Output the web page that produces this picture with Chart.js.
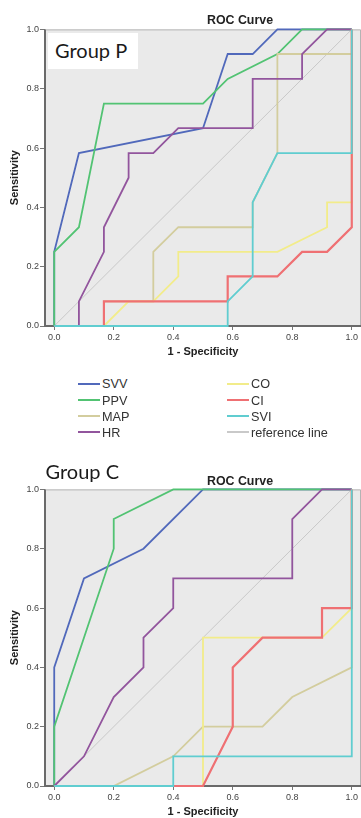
<!DOCTYPE html>
<html><head><meta charset="utf-8">
<script src="https://cdn.jsdelivr.net/npm/chart.js@4.4.1/dist/chart.umd.min.js"></script>
<style>
html,body{margin:0;padding:0;background:#fff;width:361px;height:818px;overflow:hidden;position:relative;font-family:'Liberation Sans',Arial,sans-serif;}
canvas{position:absolute;left:0;}
#c1{top:0;}
#c2{top:460px;}
.grp{position:absolute;font-family:Lato,'Open Sans',sans-serif;font-size:20px;line-height:24px;color:#1a1a1a;white-space:nowrap;}
#gpbox{position:absolute;left:48px;top:33px;width:90px;height:36px;background:#fff;}
.ttl{position:absolute;left:240px;transform:translateX(-50%);font-size:12.4px;font-weight:bold;line-height:14px;color:#222;white-space:nowrap;}
.leg{position:absolute;font-size:12.7px;line-height:14px;height:14px;color:#333;white-space:nowrap;}
.leg span{display:inline-block;width:22px;height:2px;vertical-align:middle;margin-right:2px;position:relative;top:-1px;}
</style>
</head><body>
<canvas id="c1" width="361" height="366"></canvas>
<canvas id="c2" width="361" height="366"></canvas>
<div id="gpbox"></div>
<div class="grp" id="gp" style="left:55px;top:38px;">Group P</div>
<div class="grp" id="gc" style="left:45.5px;top:459px;">Group C</div>
<div class="ttl" style="top:13px;">ROC Curve</div>
<div class="ttl" style="top:474px;">ROC Curve</div>
<div id="legend"></div>
<script>
// ---- data ----
const seriesNames = ['SVV','PPV','MAP','HR','CO','CI','SVI','reference line'];
const tickValues = [0.0,0.2,0.4,0.6,0.8,1.0];
const tickLabels = ['0.0','0.2','0.4','0.6','0.8','1.0'];

// Group P  [1 - specificity, sensitivity]
const P_SVV = [[0,0],[0,0.25],[0.083,0.583],[0.5,0.667],[0.583,0.917],[0.667,0.917],[0.75,1],[1,1]];
const P_PPV = [[0,0],[0,0.25],[0.083,0.333],[0.167,0.75],[0.5,0.75],[0.583,0.833],[0.75,0.917],[0.833,1],[1,1]];
const P_MAP = [[0,0],[0.167,0],[0.167,0.083],[0.333,0.083],[0.333,0.25],[0.417,0.333],[0.667,0.333],[0.667,0.417],[0.75,0.583],[0.75,0.917],[1,0.917],[1,1]];
const P_HR  = [[0,0],[0.083,0],[0.083,0.083],[0.167,0.25],[0.167,0.333],[0.25,0.5],[0.25,0.583],[0.333,0.583],[0.417,0.667],[0.667,0.667],[0.667,0.833],[0.833,0.833],[0.833,0.917],[0.917,1],[1,1]];
const P_CO  = [[0,0],[0.167,0],[0.25,0.083],[0.333,0.083],[0.417,0.167],[0.417,0.25],[0.75,0.25],[0.917,0.333],[0.917,0.417],[1,0.417],[1,1]];
const P_CI  = [[0,0],[0.167,0],[0.167,0.083],[0.583,0.083],[0.583,0.167],[0.75,0.167],[0.833,0.25],[0.917,0.25],[1,0.333],[1,1]];
const P_SVI = [[0,0],[0.583,0],[0.583,0.083],[0.667,0.167],[0.667,0.417],[0.75,0.583],[1,0.583],[1,1]];

// Group C
const C_SVV = [[0,0],[0,0.4],[0.1,0.7],[0.3,0.8],[0.5,1],[1,1]];
const C_PPV = [[0,0],[0,0.2],[0.2,0.8],[0.2,0.9],[0.4,1],[1,1]];
const C_MAP = [[0,0],[0.2,0],[0.4,0.1],[0.5,0.2],[0.7,0.2],[0.8,0.3],[1,0.4],[1,1]];
const C_HR  = [[0,0],[0.1,0.1],[0.2,0.3],[0.3,0.4],[0.3,0.5],[0.4,0.6],[0.4,0.7],[0.8,0.7],[0.8,0.9],[0.9,1],[1,1]];
const C_CO  = [[0,0],[0.5,0],[0.5,0.5],[0.9,0.5],[1,0.6],[1,1]];
const C_CI  = [[0,0],[0.5,0],[0.6,0.2],[0.6,0.4],[0.7,0.5],[0.9,0.5],[0.9,0.6],[1,0.6],[1,1]];
const C_SVI = [[0,0],[0.4,0],[0.4,0.1],[1,0.1],[1,1]];

const REF = [[0,0],[1,1]];

// ---- styles ----
const colors = ['#5169bb','#52c373','#d3cd9e','#92559d','#f2ec8a','#ef7073','#60cdd0','#c9c9c9'];
const widths = [1.8,1.8,1.8,1.8,1.8,2.2,1.8,1];

Chart.defaults.font.family = "'Liberation Sans', Arial, sans-serif";

const bgPlugin = {
  id:'bgframe',
  beforeDatasetsDraw(chart){
    const {ctx, chartArea:a} = chart;
    ctx.save();
    ctx.fillStyle = '#eaeaea';
    ctx.fillRect(a.left, a.top, a.right-a.left, a.bottom-a.top);
    ctx.strokeStyle = '#b4b4b4';
    ctx.lineWidth = 1;
    ctx.beginPath();
    ctx.moveTo(a.left, a.top+0.5); ctx.lineTo(a.right-0.5, a.top+0.5); ctx.lineTo(a.right-0.5, a.bottom);
    ctx.stroke();
    ctx.strokeStyle = '#6a6a6a';
    ctx.lineWidth = 2;
    ctx.beginPath();
    ctx.moveTo(a.left, a.top); ctx.lineTo(a.left, a.bottom); ctx.lineTo(a.right, a.bottom);
    ctx.stroke();
    ctx.restore();
  }
};

function makeChart(id, groups){
  const datasets = groups.map((pts,i)=>({
    label: seriesNames[i],
    data: pts.map(p=>({x:p[0], y:p[1]})),
    showLine: true,
    borderColor: colors[i],
    backgroundColor: colors[i],
    borderWidth: widths[i],
    pointRadius: 0,
    tension: 0,
    fill: false,
    clip: 4,
    order: i === 7 ? 100 : 7 - i
  }));
  const axisTicks = s => { s.ticks = tickValues.map(v=>({value:v})); };
  return new Chart(document.getElementById(id), {
    type: 'scatter',
    data: { datasets },
    plugins: [bgPlugin],
    options: {
      responsive:false, animation:false, devicePixelRatio:1,
      layout:{padding:{top:29.4, left:0, right:0, bottom:0}},
      plugins:{
        legend:{display:false}, tooltip:{enabled:false}, title:{display:false}
      },
      scales:{
        x:{
          type:'linear', min:-0.031, max:1.031,
          afterBuildTicks: axisTicks,
          afterFit: s => { s.height = 40; },
          ticks:{ callback:(v)=>tickLabels[tickValues.indexOf(v)] ?? '', color:'#444', font:{size:9}, padding:2, maxRotation:0, autoSkip:false },
          grid:{ drawOnChartArea:false, drawTicks:true, tickLength:4, color:'#777', tickWidth:1 },
          border:{display:false},
          title:{ display:true, text:'1 - Specificity', color:'#222', font:{size:11, weight:'bold', lineHeight:1.2}, padding:{top:0,bottom:7} }
        },
        y:{
          type:'linear', min:0, max:1,
          afterBuildTicks: axisTicks,
          afterFit: s => { s.width = 45; },
          ticks:{ callback:(v)=>tickLabels[tickValues.indexOf(v)] ?? '', color:'#444', font:{size:9}, padding:1, autoSkip:false },
          grid:{ drawOnChartArea:false, drawTicks:true, tickLength:5, color:'#777', tickWidth:1 },
          border:{display:false},
          title:{ display:true, text:'Sensitivity', color:'#222', font:{size:11, weight:'bold', lineHeight:1.2}, padding:{top:8,bottom:0} }
        }
      }
    }
  });
}

makeChart('c1', [P_SVV,P_PPV,P_MAP,P_HR,P_CO,P_CI,P_SVI,REF]);
makeChart('c2', [C_SVV,C_PPV,C_MAP,C_HR,C_CO,C_CI,C_SVI,REF]);

// ---- HTML legend (between the two charts) ----
const legendPos = [[78,384],[78,400.5],[78,416.5],[78,432.5],[227,384],[227,400.5],[227,416.5],[227,432.5]];
const legEl = document.getElementById('legend');
seriesNames.forEach((name,i)=>{
  const d = document.createElement('div');
  d.className = 'leg';
  d.style.left = legendPos[i][0] + 'px';
  d.style.top = (legendPos[i][1]-7) + 'px';
  const s = document.createElement('span');
  s.style.background = colors[i];
  d.appendChild(s);
  d.appendChild(document.createTextNode(name));
  legEl.appendChild(d);
});
</script>
</body></html>
